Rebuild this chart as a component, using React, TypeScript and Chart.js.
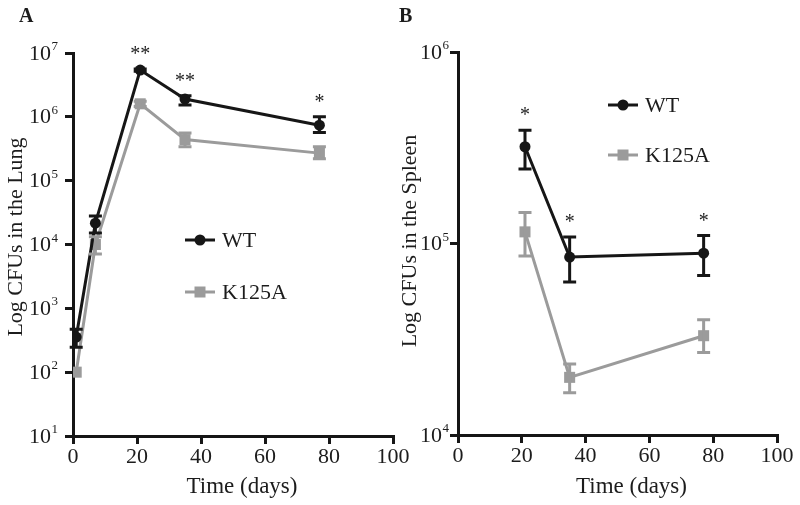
import React, { useEffect, useRef } from 'react';
import { Chart, registerables } from 'chart.js';

Chart.register(...registerables);

// ---- Panel A: lung ----
const daysLung = [1, 7, 21, 35, 77];
const wtLung = [355, 21600, 5400000, 1900000, 740000];
const wtLungHi = [472, 27900, 5600000, 2140000, 1000000];
const wtLungLo = [245, 15100, 5200000, 1530000, 570000];
const k125aLung = [100, 10000, 1600000, 440000, 270000];
const k125aLungHi = [100, 13200, 1750000, 560000, 340000];
const k125aLungLo = [100, 7100, 1450000, 340000, 220000];
const lungSig = ['', '', '**', '**', '*'];
const lungYTicks = [1e1, 1e2, 1e3, 1e4, 1e5, 1e6, 1e7];

// ---- Panel B: spleen ----
const daysSpleen = [21, 35, 77];
const wtSpleen = [320000, 85000, 89000];
const wtSpleenHi = [390000, 108000, 110000];
const wtSpleenLo = [245000, 63000, 68000];
const k125aSpleen = [115000, 20000, 33000];
const k125aSpleenHi = [145000, 23500, 40000];
const k125aSpleenLo = [86000, 16600, 27000];
const spleenSig = ['*', '*', '*'];
const spleenYTicks = [1e4, 1e5, 1e6];

const xTicks = [0, 20, 40, 60, 80, 100];
const seriesNames = ['WT', 'K125A'];
const xTitle = 'Time (days)';

const FONT = 'Liberation Serif';
const TEXT = '#1c1c1c';
const BLACK = '#161616';
const GRAY = '#9b9b9b';

const errorBarPlugin = {
  id: 'errorBars',
  afterDatasetsDraw(chart: any) {
    const { ctx } = chart;
    const yScale = chart.scales.y;
    chart.data.datasets.forEach((ds: any, di: number) => {
      const meta = chart.getDatasetMeta(di);
      ctx.save();
      ctx.strokeStyle = ds.borderColor;
      ctx.lineWidth = 3;
      meta.data.forEach((pt: any, i: number) => {
        const yh = yScale.getPixelForValue(ds.errHi[i]);
        const yl = yScale.getPixelForValue(ds.errLo[i]);
        if (Math.abs(yl - yh) < 1) return;
        const x = pt.x;
        ctx.beginPath();
        ctx.moveTo(x, yh);
        ctx.lineTo(x, yl);
        ctx.moveTo(x - 6.5, yh);
        ctx.lineTo(x + 6.5, yh);
        ctx.moveTo(x - 6.5, yl);
        ctx.lineTo(x + 6.5, yl);
        ctx.stroke();
      });
      ctx.restore();
    });
  },
};

const annotPlugin = {
  id: 'annot',
  afterDraw(chart: any) {
    const { ctx, chartArea } = chart;
    const o = chart.options.plugins.annot;
    const xs = chart.scales.x;
    const ys = chart.scales.y;
    ctx.save();
    ctx.fillStyle = TEXT;

    // panel letter
    ctx.font = `bold 20px "${FONT}"`;
    ctx.textAlign = 'left';
    ctx.textBaseline = 'alphabetic';
    ctx.fillText(o.letter, o.letterX, 22);

    // y tick labels: 10 with superscript exponent
    ys.ticks.forEach((t: any) => {
      const y = ys.getPixelForValue(t.value);
      const exp = String(Math.round(Math.log10(t.value)));
      const xr = chartArea.left - 8 - o.labelGap;
      ctx.font = `13px "${FONT}"`;
      ctx.textAlign = 'right';
      ctx.fillText(exp, xr, y - 3);
      const ew = ctx.measureText(exp).width;
      ctx.font = `22px "${FONT}"`;
      ctx.fillText('10', xr - ew - 0.5, y + 6.5);
    });

    // axis titles
    ctx.font = `23px "${FONT}"`;
    ctx.textAlign = 'center';
    ctx.textBaseline = 'alphabetic';
    ctx.fillText(xTitle, (chartArea.left + chartArea.right) / 2 + o.xTitleDx, 493);
    ctx.save();
    ctx.translate(o.yTitleX, o.yTitleY);
    ctx.rotate(-Math.PI / 2);
    ctx.font = `22px "${FONT}"`;
    ctx.textBaseline = 'middle';
    ctx.fillText(o.yTitle, 0, 0);
    ctx.restore();

    // significance stars
    ctx.font = `20px "${FONT}"`;
    ctx.textAlign = 'center';
    ctx.textBaseline = 'alphabetic';
    o.sig.forEach((s: string, i: number) => {
      if (!s) return;
      const top = Math.max(...chart.data.datasets.map((d: any) => d.errHi[i]));
      const x = xs.getPixelForValue(o.days[i]);
      const y = ys.getPixelForValue(top) - 9;
      ctx.fillText(s, x, y);
    });

    // legend
    chart.data.datasets.forEach((ds: any, di: number) => {
      const lx = o.legendX;
      const ly = o.legendY[di];
      ctx.strokeStyle = ds.borderColor;
      ctx.fillStyle = ds.borderColor;
      ctx.lineWidth = 3;
      ctx.beginPath();
      ctx.moveTo(lx, ly);
      ctx.lineTo(lx + 30, ly);
      ctx.stroke();
      if (ds.pointStyle === 'rect') {
        ctx.fillRect(lx + 15 - 5.5, ly - 5.5, 11, 11);
      } else {
        ctx.beginPath();
        ctx.arc(lx + 15, ly, 5.5, 0, Math.PI * 2);
        ctx.fill();
      }
      ctx.fillStyle = TEXT;
      ctx.font = `22px "${FONT}"`;
      ctx.textAlign = 'left';
      ctx.textBaseline = 'middle';
      ctx.fillText(ds.label, lx + 37, ly + 1);
    });
    ctx.restore();
  },
};

function makeConfig(p: any) {
  const pts = (xs: number[], ys: number[]) => xs.map((x, i) => ({ x, y: ys[i] }));
  return {
    type: 'line',
    data: {
      datasets: [
        {
          label: seriesNames[0],
          data: pts(p.days, p.wt),
          errHi: p.wtHi,
          errLo: p.wtLo,
          borderColor: BLACK,
          backgroundColor: BLACK,
          borderWidth: 3,
          pointStyle: 'circle',
          pointRadius: 5.5,
          pointBorderWidth: 0,
          tension: 0,
        },
        {
          label: seriesNames[1],
          data: pts(p.days, p.k),
          errHi: p.kHi,
          errLo: p.kLo,
          borderColor: GRAY,
          backgroundColor: GRAY,
          borderWidth: 3,
          pointStyle: 'rect',
          pointRadius: 7.8,
          pointBorderWidth: 0,
          tension: 0,
        },
      ],
    },
    options: {
      responsive: false,
      animation: false,
      layout: { padding: { left: 0, right: p.padRight, top: p.padTop, bottom: 0 } },
      plugins: {
        legend: { display: false },
        tooltip: { enabled: false },
        annot: {
          letter: p.letter,
          letterX: p.letterX,
          sig: p.sig,
          days: p.days,
          legendX: p.legendX,
          legendY: p.legendY,
          labelGap: p.labelGap,
          xTitleDx: p.xTitleDx,
          yTitle: p.yTitle,
          yTitleX: p.yTitleX,
          yTitleY: p.yTitleY,
        },
      },
      scales: {
        x: {
          type: 'linear',
          min: 0,
          max: 100,
          afterBuildTicks: (s: any) => {
            s.ticks = xTicks.map((v) => ({ value: v }));
          },
          afterFit: (s: any) => {
            s.height = p.xHeight;
          },
          border: { display: true, color: BLACK, width: 3 },
          grid: { display: true, drawOnChartArea: false, drawTicks: true, tickLength: 8, lineWidth: 3, color: BLACK },
          ticks: { color: TEXT, font: { family: FONT, size: 22 }, padding: 0, maxRotation: 0 },
          title: { display: false },
        },
        y: {
          type: 'logarithmic',
          min: p.yTicks[0],
          max: p.yTicks[p.yTicks.length - 1],
          afterBuildTicks: (s: any) => {
            s.ticks = p.yTicks.map((v: number) => ({ value: v }));
          },
          afterFit: (s: any) => {
            s.width = p.yWidth;
          },
          border: { display: true, color: BLACK, width: 3 },
          grid: { display: true, drawOnChartArea: false, drawTicks: true, tickLength: 8, lineWidth: 3, color: BLACK },
          ticks: { callback: () => '', padding: 0 },
          title: { display: false },
        },
      },
    },
    plugins: [errorBarPlugin, annotPlugin],
  };
}

const panelA = {
  days: daysLung, wt: wtLung, wtHi: wtLungHi, wtLo: wtLungLo,
  k: k125aLung, kHi: k125aLungHi, kLo: k125aLungLo,
  sig: lungSig, yTicks: lungYTicks, yTitle: 'Log CFUs in the Lung',
  letter: 'A', letterX: 19, legendX: 185, legendY: [240, 292],
  padRight: 22, padTop: 53, yWidth: 73, xHeight: 69,
  labelGap: 7, xTitleDx: 9, yTitleX: 16, yTitleY: 237,
};

const panelB = {
  days: daysSpleen, wt: wtSpleen, wtHi: wtSpleenHi, wtLo: wtSpleenLo,
  k: k125aSpleen, kHi: k125aSpleenHi, kLo: k125aSpleenLo,
  sig: spleenSig, yTicks: spleenYTicks, yTitle: 'Log CFUs in the Spleen',
  letter: 'B', letterX: 4, legendX: 213, legendY: [105, 155],
  padRight: 23, padTop: 52, yWidth: 63, xHeight: 70,
  labelGap: 1, xTitleDx: 14, yTitleX: 15, yTitleY: 241,
};

export default function App() {
  const refA = useRef<HTMLCanvasElement>(null);
  const refB = useRef<HTMLCanvasElement>(null);

  useEffect(() => {
    const a = new Chart(refA.current as any, makeConfig(panelA) as any);
    const b = new Chart(refB.current as any, makeConfig(panelB) as any);
    return () => {
      a.destroy();
      b.destroy();
    };
  }, []);

  return (
    <div style={{ position: 'absolute', left: 0, top: 0, width: 800, height: 505, background: '#fff', overflow: 'hidden' }}>
      <canvas ref={refA} width={415} height={505} style={{ position: 'absolute', left: 0, top: 0, width: 415, height: 505 }} />
      <canvas ref={refB} width={405} height={505} style={{ position: 'absolute', left: 395, top: 0, width: 405, height: 505 }} />
    </div>
  );
}
